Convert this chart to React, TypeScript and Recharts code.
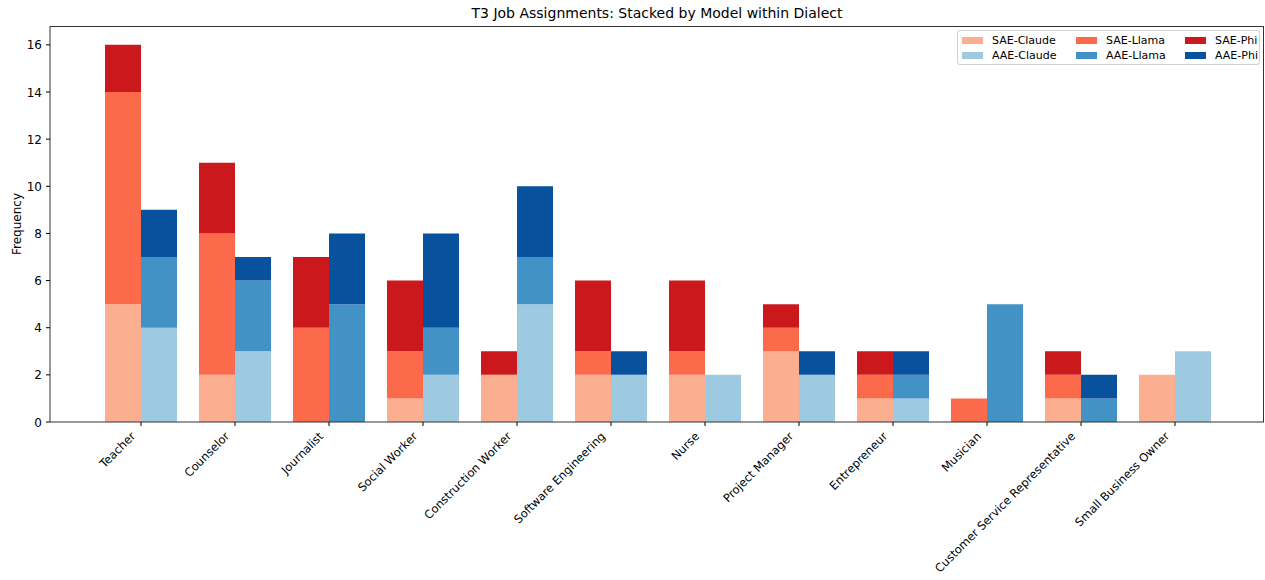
import React from 'react';
import { BarChart, Bar, XAxis, YAxis } from 'recharts';

const categories = ['Teacher', 'Counselor', 'Journalist', 'Social Worker', 'Construction Worker', 'Software Engineering', 'Nurse', 'Project Manager', 'Entrepreneur', 'Musician', 'Customer Service Representative', 'Small Business Owner'];
const saeClaude = [5, 2, 0, 1, 2, 2, 2, 3, 1, 0, 1, 2];
const saeLlama = [9, 6, 4, 2, 0, 1, 1, 1, 1, 1, 1, 0];
const saePhi = [2, 3, 3, 3, 1, 3, 3, 1, 1, 0, 1, 0];
const aaeClaude = [4, 3, 0, 2, 5, 2, 2, 2, 1, 0, 0, 3];
const aaeLlama = [3, 3, 5, 2, 2, 0, 0, 0, 1, 5, 1, 0];
const aaePhi = [2, 1, 3, 4, 3, 1, 0, 1, 1, 0, 1, 0];
const yTicks = [0, 2, 4, 6, 8, 10, 12, 14, 16];

const C = {
  saeClaude: '#fcae91', saeLlama: '#fb6a4a', saePhi: '#cb181d',
  aaeClaude: '#9ecae1', aaeLlama: '#4292c6', aaePhi: '#08519c',
};

const data = categories.map((c, i) => ({
  name: c,
  saeClaude: saeClaude[i], saeLlama: saeLlama[i], saePhi: saePhi[i],
  aaeClaude: aaeClaude[i], aaeLlama: aaeLlama[i], aaePhi: aaePhi[i],
}));

const FONT = 'DejaVu Sans, sans-serif';

const XTick = (props: any) => {
  const { x, y, payload } = props;
  return (
    <g transform={`translate(${x - 5},${y + 9})`}>
      <text transform="rotate(-45)" textAnchor="end" fontSize={11.5} fill="#000" fontFamily={FONT}>{payload.value}</text>
    </g>
  );
};

const YTick = (props: any) => {
  const { x, y, payload } = props;
  return (
    <text x={x - 2} y={y + 4.5} textAnchor="end" fontSize={12} fill="#000" fontFamily={FONT}>{payload.value}</text>
  );
};

const legendItems = [
  { label: 'SAE-Claude', color: C.saeClaude, col: 0, row: 0 },
  { label: 'AAE-Claude', color: C.aaeClaude, col: 0, row: 1 },
  { label: 'SAE-Llama', color: C.saeLlama, col: 1, row: 0 },
  { label: 'AAE-Llama', color: C.aaeLlama, col: 1, row: 1 },
  { label: 'SAE-Phi', color: C.saePhi, col: 2, row: 0 },
  { label: 'AAE-Phi', color: C.aaePhi, col: 2, row: 1 },
];
const colX = [962, 1076, 1185];

export default function App() {
  return (
    <div style={{ position: 'absolute', left: 0, top: 0, width: 1265, height: 580, background: '#fff', fontFamily: FONT }}>
      <div style={{ position: 'absolute', left: 50, width: 1214, top: 5, textAlign: 'center', fontSize: 14, color: '#000' }}>
        T3 Job Assignments: Stacked by Model within Dialect
      </div>
      <div style={{ position: 'absolute', left: 17, top: 224, transform: 'translate(-50%,-50%) rotate(-90deg)', fontSize: 12, whiteSpace: 'nowrap' }}>
        Frequency
      </div>
      <BarChart width={1265} height={580} data={data} margin={{ top: 26, right: 1, left: 0, bottom: 0 }} barGap={0}>
        <XAxis dataKey="name" height={158} interval={0} padding={{ left: 44, right: 42 }} tick={<XTick />} tickLine={{ stroke: '#000' }} tickSize={4} axisLine={{ stroke: '#333', strokeWidth: 1 }} />
        <YAxis width={50} domain={[0, 16.8]} ticks={yTicks} allowDataOverflow tick={<YTick />} tickLine={{ stroke: '#000' }} tickSize={4} axisLine={{ stroke: '#333', strokeWidth: 1 }} />
        <Bar dataKey="saeClaude" stackId="sae" fill={C.saeClaude} barSize={36} isAnimationActive={false} />
        <Bar dataKey="saeLlama" stackId="sae" fill={C.saeLlama} barSize={36} isAnimationActive={false} />
        <Bar dataKey="saePhi" stackId="sae" fill={C.saePhi} barSize={36} isAnimationActive={false} />
        <Bar dataKey="aaeClaude" stackId="aae" fill={C.aaeClaude} barSize={36} isAnimationActive={false} />
        <Bar dataKey="aaeLlama" stackId="aae" fill={C.aaeLlama} barSize={36} isAnimationActive={false} />
        <Bar dataKey="aaePhi" stackId="aae" fill={C.aaePhi} barSize={36} isAnimationActive={false} />
      </BarChart>
      <div style={{ position: 'absolute', left: 50, top: 26, width: 1214, height: 396, borderTop: '1px solid #333', borderRight: '1px solid #333', boxSizing: 'border-box', pointerEvents: 'none' }} />
      <div style={{ position: 'absolute', left: 957, top: 30, width: 303, height: 35, border: '1px solid #d0d0d0', borderRadius: 3, background: 'rgba(255,255,255,0.8)', boxSizing: 'border-box' }} />
      {legendItems.map((it) => (
        <div key={it.label} style={{ position: 'absolute', left: colX[it.col], top: 33 + it.row * 15, height: 14, display: 'flex', alignItems: 'center', fontSize: 11, whiteSpace: 'nowrap' }}>
          <span style={{ display: 'inline-block', width: 21, height: 7, background: it.color, marginRight: 9 }} />
          <span>{it.label}</span>
        </div>
      ))}
    </div>
  );
}
